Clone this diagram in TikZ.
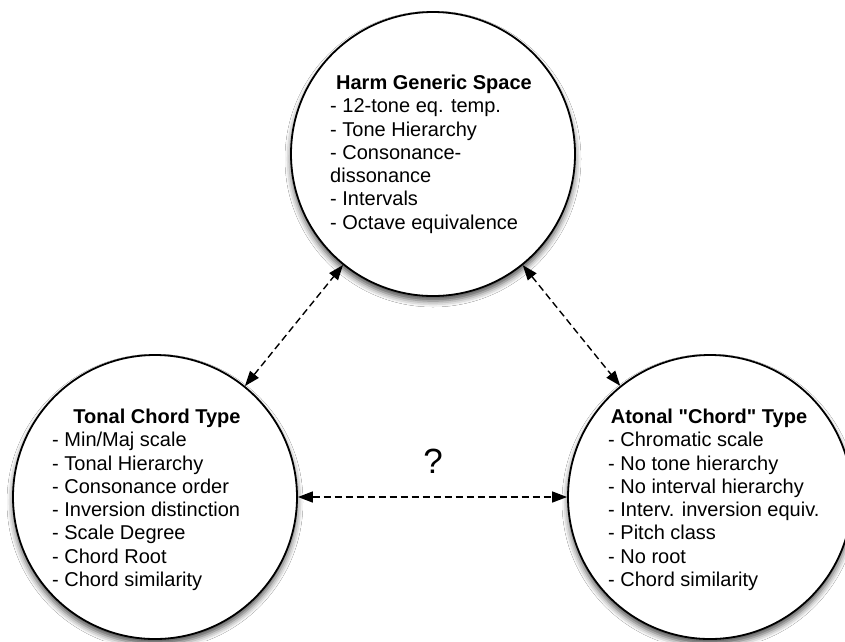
\documentclass[tikz,border=0pt]{standalone}
\usepackage{fontspec}
\setmainfont[Ligatures=TeXOff]{Liberation Sans}
\usetikzlibrary{arrows.meta,shadows.blur}
\begin{document}
\begin{tikzpicture}[x=1pt,y=-1pt,
  bubble/.style={circle,draw=black,line width=1.8pt,fill=white,minimum size=284pt,inner sep=0pt,
    blur shadow={shadow xshift=0pt,shadow yshift=-5pt,shadow blur radius=6pt,shadow opacity=70}},
  ctitle/.style={font=\fontsize{20}{23.3}\selectfont\bfseries,anchor=base,inner sep=0pt},
  citems/.style={font=\fontsize{20}{23.3}\selectfont,anchor=base west,inner sep=0pt},
  link/.style={dash pattern=on 7pt off 4pt,line width=1.4pt,
    {Triangle[length=15pt,width=11pt]}-{Triangle[length=15pt,width=11pt]}}
]
\useasboundingbox (0,0) rectangle (845,641);
\fill[white] (0,0) rectangle (845,641);

\node[bubble] (T) at (433,154) {};
\node[bubble] (L) at (155,497) {};
\node[bubble] (R) at (710,497) {};

\node[ctitle] (Tt) at (434,89) {Harm Generic Space};
\node[citems] (Ti) at (330,112.7) {\begin{tabular}[t]{@{}l@{}}- 12-tone eq. temp.\\- Tone Hierarchy\\- Consonance-\\dissonance\\- Intervals\\- Octave equivalence\end{tabular}};

\node[ctitle] (Lt) at (157,423) {Tonal Chord Type};
\node[citems] (Li) at (52,446.7) {\begin{tabular}[t]{@{}l@{}}- Min/Maj scale\\- Tonal Hierarchy\\- Consonance order\\- Inversion distinction\\- Scale Degree\\- Chord Root\\- Chord similarity\end{tabular}};

\node[ctitle] (Rt) at (709,423) {Atonal "Chord" Type};
\node[citems] (Ri) at (608,446.7) {\begin{tabular}[t]{@{}l@{}}- Chromatic scale\\- No tone hierarchy\\- No interval hierarchy\\- Interv. inversion equiv.\\- Pitch class\\- No root\\- Chord similarity\end{tabular}};

\node[font=\fontsize{35}{40}\selectfont,anchor=base,inner sep=0pt] (Q) at (433,473) {?};

\draw[link] (L) -- (T);
\draw[link] (T) -- (R);
\draw[link] (L) -- (R);
\end{tikzpicture}
\end{document}
